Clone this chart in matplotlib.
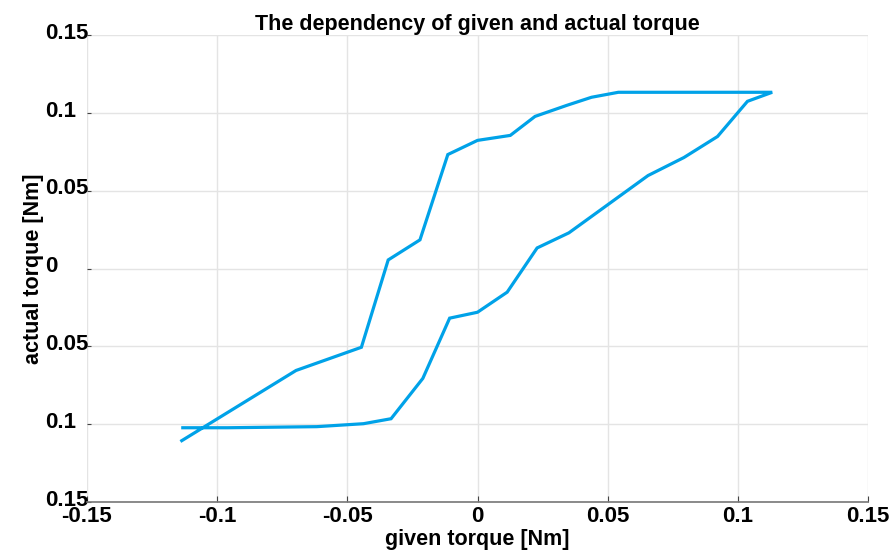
import matplotlib.pyplot as plt
import matplotlib.transforms as mtransforms

# hysteresis loop (one continuous path)
given_torque = [-0.1136, -0.0697, -0.0446, -0.0343, -0.0221, -0.0114, 0.0, 0.0126,
                0.0221, 0.0343, 0.0438, 0.0541, 0.1132, 0.1037, 0.0922, 0.0793,
                0.0655, 0.0351, 0.0229, 0.0114, 0.0, -0.0107, -0.0210, -0.0332,
                -0.0438, -0.0617, -0.0960, -0.1132]
actual_torque = [-0.1106, -0.0655, -0.0506, 0.0055, 0.0184, 0.0732, 0.0823, 0.0855,
                 0.0977, 0.1048, 0.1100, 0.1132, 0.1132, 0.1074, 0.0848, 0.0713,
                 0.0597, 0.0229, 0.0132, -0.0152, -0.0281, -0.0319, -0.0706, -0.0965,
                 -0.0997, -0.1016, -0.1023, -0.1023]

x_ticks = [-0.15, -0.1, -0.05, 0, 0.05, 0.1, 0.15]
x_tick_labels = ['-0.15', '-0.1', '-0.05', '0', '0.05', '0.1', '0.15']
y_ticks = [-0.15, -0.1, -0.05, 0, 0.05, 0.1, 0.15]
# the reference shows no minus signs on the y axis
y_tick_labels = ['0.15', '0.1', '0.05', '0', '0.05', '0.1', '0.15']

plt.rcParams['font.family'] = ['Liberation Sans', 'DejaVu Sans']

fig = plt.figure(figsize=(8.93, 5.51), dpi=100)
ax = fig.add_axes([87 / 893, 49 / 551, 781 / 893, 467 / 551])

ax.plot(given_torque, actual_torque, color='#00a2e8', linewidth=2.3, solid_joinstyle='miter')

ax.set_xlim(-0.15, 0.15)
ax.set_ylim(-0.15, 0.15)
ax.set_xticks(x_ticks)
ax.set_xticklabels(x_tick_labels, fontsize=16, fontweight='bold')
ax.set_yticks(y_ticks)
ax.set_yticklabels(y_tick_labels, fontsize=16, fontweight='bold')

ax.tick_params(axis='x', direction='in', length=4, width=0.8, color='#444444', pad=3)
ax.tick_params(axis='y', direction='in', length=3, width=0.8, color='#444444', pad=30)

# y labels are left aligned and sit a little above their ticks
shift_up = mtransforms.ScaledTranslation(0, 3 / 72, fig.dpi_scale_trans)
for lbl in ax.get_yticklabels():
    lbl.set_horizontalalignment('left')
    lbl.set_transform(lbl.get_transform() + shift_up)

ax.grid(True, color='#e4e4e4', linewidth=1)
ax.set_axisbelow(True)
for side in ['top', 'right', 'left']:
    ax.spines[side].set_visible(False)
ax.spines['bottom'].set_color('#777777')
ax.spines['bottom'].set_linewidth(1.2)

ax.set_title('The dependency of given and actual torque', fontsize=15.5, fontweight='bold', pad=3)
ax.set_xlabel('given torque [Nm]', fontsize=15.5, fontweight='bold', labelpad=1)
ax.set_ylabel('actual torque [Nm]', fontsize=15.5, fontweight='bold', labelpad=1)

fig.savefig('out.png', dpi=100)
